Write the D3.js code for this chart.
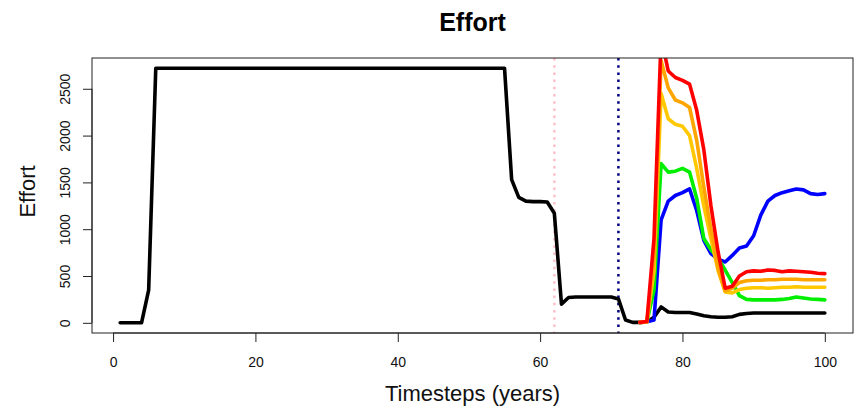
<!DOCTYPE html>
<html>
<head>
<meta charset="utf-8">
<script src="https://cdn.jsdelivr.net/npm/d3@7"></script>
<style>
  html, body { margin: 0; padding: 0; background: #fff; }
  svg { display: block; font-family: "Liberation Sans", Arial, sans-serif; }
</style>
</head>
<body>
<svg id="chart" width="861" height="409"></svg>
<script>
// ---------------- DATA ----------------
const title = "Effort";
const xLabel = "Timesteps (years)";
const yLabel = "Effort";
const xTicks = [0, 20, 40, 60, 80, 100];
const yTicks = [0, 500, 1000, 1500, 2000, 2500];

// black (baseline) series, timesteps 1..100
const baseTimes = d3.range(1, 101);
const baseEffort = [
  0, 0, 0, 0, 350,
  2720, 2720, 2720, 2720, 2720, 2720, 2720, 2720, 2720, 2720,
  2720, 2720, 2720, 2720, 2720, 2720, 2720, 2720, 2720, 2720,
  2720, 2720, 2720, 2720, 2720, 2720, 2720, 2720, 2720, 2720,
  2720, 2720, 2720, 2720, 2720, 2720, 2720, 2720, 2720, 2720,
  2720, 2720, 2720, 2720, 2720, 2720, 2720, 2720, 2720, 2720,
  1530, 1340, 1300, 1295, 1295, 1290, 1170, 200, 270, 275,
  275, 275, 275, 275, 275, 255, 30, 5, 5, 10,
  60, 170, 115, 110, 110, 110, 95, 75, 65, 60,
  60, 65, 90, 100, 105, 105, 105, 105, 105, 105,
  105, 105, 105, 105, 105
];

// scenario series, timesteps 74..100
const scenTimes = d3.range(74, 101);
const blueEffort = [5, 10, 30, 1100, 1300, 1360, 1390, 1430, 1200, 880, 740, 680, 650, 720, 800, 820, 930, 1150, 1300, 1360, 1390, 1410, 1430, 1420, 1380, 1370, 1380];
const greenEffort = [5, 10, 350, 1700, 1610, 1620, 1650, 1610, 1330, 900, 780, 690, 564, 430, 290, 250, 245, 245, 245, 245, 250, 260, 275, 265, 255, 250, 245];
const goldEffort = [5, 10, 550, 2450, 2180, 2120, 2100, 2000, 1650, 1250, 900, 560, 330, 320, 355, 370, 375, 375, 370, 375, 380, 380, 385, 380, 380, 380, 380];
const orangeEffort = [5, 10, 700, 2800, 2510, 2380, 2350, 2300, 1950, 1450, 1000, 580, 340, 370, 430, 450, 455, 455, 460, 460, 465, 465, 465, 460, 460, 460, 460];
const redEffort = [5, 15, 900, 3050, 2690, 2620, 2590, 2550, 2270, 1850, 1250, 760, 370, 390, 500, 545, 555, 550, 565, 560, 545, 555, 550, 545, 540, 530, 525];

const scenarioNames = ["blue", "green", "gold", "orange", "red"];
const scenarioColors = ["#0000FF", "#00EE00", "#FFC800", "#FFA500", "#FF0000"];
const scenarioValues = [blueEffort, greenEffort, goldEffort, orangeEffort, redEffort];

// reference (vertical) lines
const vlineTimes = [62, 71];
const vlineColors = ["#FFC0CB", "#000080"];

// ---------------- CHART ----------------
const svg = d3.select("#chart");
const plot = { left: 92, right: 853, top: 58, bottom: 333 };

const xMin = 1, xMax = 100, yMin = 0, yMax = d3.max(baseEffort);
const xPad = (xMax - xMin) * 0.04, yPad = (yMax - yMin) * 0.04;
const x = d3.scaleLinear().domain([xMin - xPad, xMax + xPad]).range([plot.left, plot.right]);
const y = d3.scaleLinear().domain([yMin - yPad, yMax + yPad]).range([plot.bottom, plot.top]);

svg.append("defs").append("clipPath").attr("id", "clip")
  .append("rect")
  .attr("x", plot.left).attr("y", plot.top)
  .attr("width", plot.right - plot.left).attr("height", plot.bottom - plot.top);

const g = svg.append("g").attr("clip-path", "url(#clip)");

// vertical reference lines
vlineTimes.forEach((t, i) => {
  g.append("line")
    .attr("x1", x(t)).attr("x2", x(t))
    .attr("y1", plot.top).attr("y2", plot.bottom)
    .attr("stroke", vlineColors[i])
    .attr("stroke-width", 2.5)
    .attr("stroke-dasharray", "2.5,4.7");
});

const line = d3.line().x(d => x(d[0])).y(d => y(d[1]));

g.append("path")
  .datum(baseTimes.map((t, i) => [t, baseEffort[i]]))
  .attr("d", line)
  .attr("fill", "none").attr("stroke", "#000")
  .attr("stroke-width", 3.6)
  .attr("stroke-linejoin", "round").attr("stroke-linecap", "round");

scenarioValues.forEach((vals, k) => {
  g.append("path")
    .datum(scenTimes.map((t, i) => [t, vals[i]]))
    .attr("class", "scenario-" + scenarioNames[k])
    .attr("d", line)
    .attr("fill", "none").attr("stroke", scenarioColors[k])
    .attr("stroke-width", 3.6)
    .attr("stroke-linejoin", "round").attr("stroke-linecap", "round");
});

// box
svg.append("rect")
  .attr("x", plot.left).attr("y", plot.top)
  .attr("width", plot.right - plot.left).attr("height", plot.bottom - plot.top)
  .attr("fill", "none").attr("stroke", "#222").attr("stroke-width", 1);

// x axis
const xAxis = d3.axisBottom(x).tickValues(xTicks).tickSize(9).tickPadding(15).tickFormat(d3.format("d"));
const gx = svg.append("g").attr("transform", `translate(0,${plot.bottom})`).call(xAxis);
gx.select(".domain").attr("d", `M${x(xTicks[0])},0H${x(xTicks[xTicks.length - 1])}`).attr("stroke", "#222");
gx.selectAll(".tick line").attr("stroke", "#222");
gx.selectAll(".tick text")
  .attr("font-family", "Liberation Sans, Arial, sans-serif")
  .attr("font-size", 14).attr("fill", "#111");

// y axis
const yAxis = d3.axisLeft(y).tickValues(yTicks).tickSize(9).tickFormat(d3.format("d"));
const gy = svg.append("g").attr("transform", `translate(${plot.left},0)`).call(yAxis);
gy.select(".domain").attr("d", `M0,${y(yTicks[0])}V${y(yTicks[yTicks.length - 1])}`).attr("stroke", "#222");
gy.selectAll(".tick line").attr("stroke", "#222");
gy.selectAll(".tick text")
  .attr("font-family", "Liberation Sans, Arial, sans-serif")
  .attr("font-size", 14).attr("fill", "#111")
  .attr("x", null).attr("dy", null)
  .attr("text-anchor", "middle")
  .attr("transform", "translate(-22,0) rotate(-90)");

// title & labels
svg.append("text")
  .attr("x", (plot.left + plot.right) / 2).attr("y", 31)
  .attr("text-anchor", "middle")
  .attr("font-size", 25).attr("font-weight", "bold").attr("fill", "#000")
  .text(title);

svg.append("text")
  .attr("x", (plot.left + plot.right) / 2).attr("y", 401)
  .attr("text-anchor", "middle")
  .attr("font-size", 22).attr("fill", "#111")
  .text(xLabel);

svg.append("text")
  .attr("transform", `translate(35,${(plot.top + plot.bottom) / 2 - 4}) rotate(-90)`)
  .attr("text-anchor", "middle")
  .attr("font-size", 22).attr("fill", "#111")
  .text(yLabel);
</script>
</body>
</html>
